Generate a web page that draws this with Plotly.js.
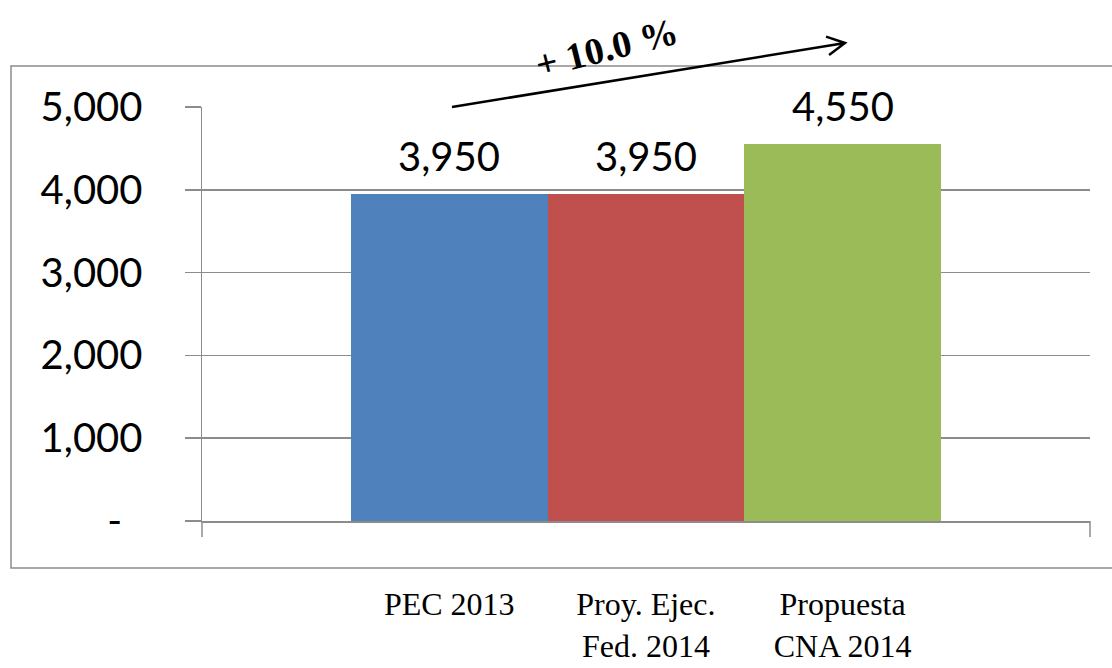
<!DOCTYPE html>
<html>
<head>
<meta charset="utf-8">
<script src="https://cdn.plot.ly/plotly-3.0.1.min.js"></script>
<style>html,body{margin:0;padding:0;background:#fff;}</style>
</head>
<body>
<div id="chart" style="width:1112px;height:668px;"></div>
<script>
// ---- data ----
const categories = ["PEC 2013", "Proy. Ejec.<br>Fed. 2014", "Propuesta<br>CNA 2014"];
const values = [3950, 3950, 4550];
const barColors = ["#4f81bd", "#c0504d", "#9bbb59"];
const yTickVals = [0, 1000, 2000, 3000, 4000, 5000];
const yTickText = ["-&nbsp;&nbsp;", "1,000", "2,000", "3,000", "4,000", "5,000"];
const growthLabel = "+ 10.0 %";

// ---- geometry helpers (plot area in px) ----
const W = 1112, H = 668;
const M = {l: 202, r: 22, t: 107, b: 147};
const PW = W - M.l - M.r, PH = H - M.t - M.b;
const px = x => (x - M.l) / PW;
const py = y => (H - M.b - y) / PH;

const gray = "#8c8c8c";

const trace = {
  type: "bar",
  x: categories,
  y: values,
  marker: {color: barColors, line: {width: 0}},
  hoverinfo: "x+y"
};

// data labels, placed through the axes' scales
const fmt = v => v.toLocaleString("en-US");
const valueLabels = categories.map((c, i) => ({
  xref: "x", yref: "y", x: c, y: values[i], text: fmt(values[i]),
  showarrow: false, xanchor: "center", yanchor: "bottom", yshift: 12,
  font: {family: "Lato, sans-serif", size: 40, color: "#000"}
}));

// open arrow as a path
const tail = [452, 107], head = [845, 43];
const ang = Math.atan2(head[1] - tail[1], head[0] - tail[0]);
const wl = 20, wa = 28 * Math.PI / 180;
const w1 = [head[0] - wl * Math.cos(ang - wa), head[1] - wl * Math.sin(ang - wa)];
const w2 = [head[0] - wl * Math.cos(ang + wa), head[1] - wl * Math.sin(ang + wa)];
const P = p => px(p[0]) + "," + py(p[1]);
const arrowPath = "M" + P(tail) + " L" + P(head) + " M" + P(w1) + " L" + P(head) + " L" + P(w2);

const layout = {
  width: W, height: H, autosize: false,
  margin: M,
  paper_bgcolor: "#fff", plot_bgcolor: "#fff",
  showlegend: false,
  bargap: 0,
  font: {family: "Lato, sans-serif", color: "#000"},
  xaxis: {
    type: "category",
    range: [-1.257, 3.258],
    showline: true, linecolor: gray, linewidth: 1.5,
    ticks: "", showgrid: false, zeroline: false,
    tickfont: {family: "Liberation Serif, serif", size: 32, color: "#000"},
    ticklabelstandoff: 54,
    fixedrange: true
  },
  yaxis: {
    range: [0, 5000],
    tickvals: yTickVals, ticktext: yTickText,
    showline: true, linecolor: gray, linewidth: 1.5,
    ticks: "outside", ticklen: 16, tickcolor: gray, tickwidth: 1.5,
    showgrid: true, gridcolor: gray, gridwidth: 1.5,
    zeroline: false,
    tickfont: {family: "Lato, sans-serif", size: 40, color: "#000"},
    ticklabelstandoff: 34,
    fixedrange: true
  },
  shapes: [
    {type: "rect", xref: "paper", yref: "paper", x0: px(11), x1: px(1125), y0: py(568), y1: py(66),
     line: {color: gray, width: 1.5}, fillcolor: "rgba(0,0,0,0)", layer: "below"},
    {type: "line", xref: "paper", yref: "paper", x0: 0, x1: 0, y0: 0, y1: py(537),
     line: {color: gray, width: 1.5}},
    {type: "line", xref: "paper", yref: "paper", x0: 1, x1: 1, y0: 0, y1: py(537),
     line: {color: gray, width: 1.5}},
    {type: "path", xref: "paper", yref: "paper", path: arrowPath,
     line: {color: "#000", width: 2.5}}
  ],
  annotations: valueLabels.concat([
    {xref: "paper", yref: "paper", x: px(606), y: py(48), text: "<b>" + growthLabel + "</b>",
     showarrow: false, textangle: -14, xanchor: "center", yanchor: "middle",
     font: {family: "Liberation Serif, serif", size: 38, color: "#000"}}
  ])
};

Plotly.newPlot("chart", [trace], layout, {staticPlot: true, displayModeBar: false});
</script>
</body>
</html>
